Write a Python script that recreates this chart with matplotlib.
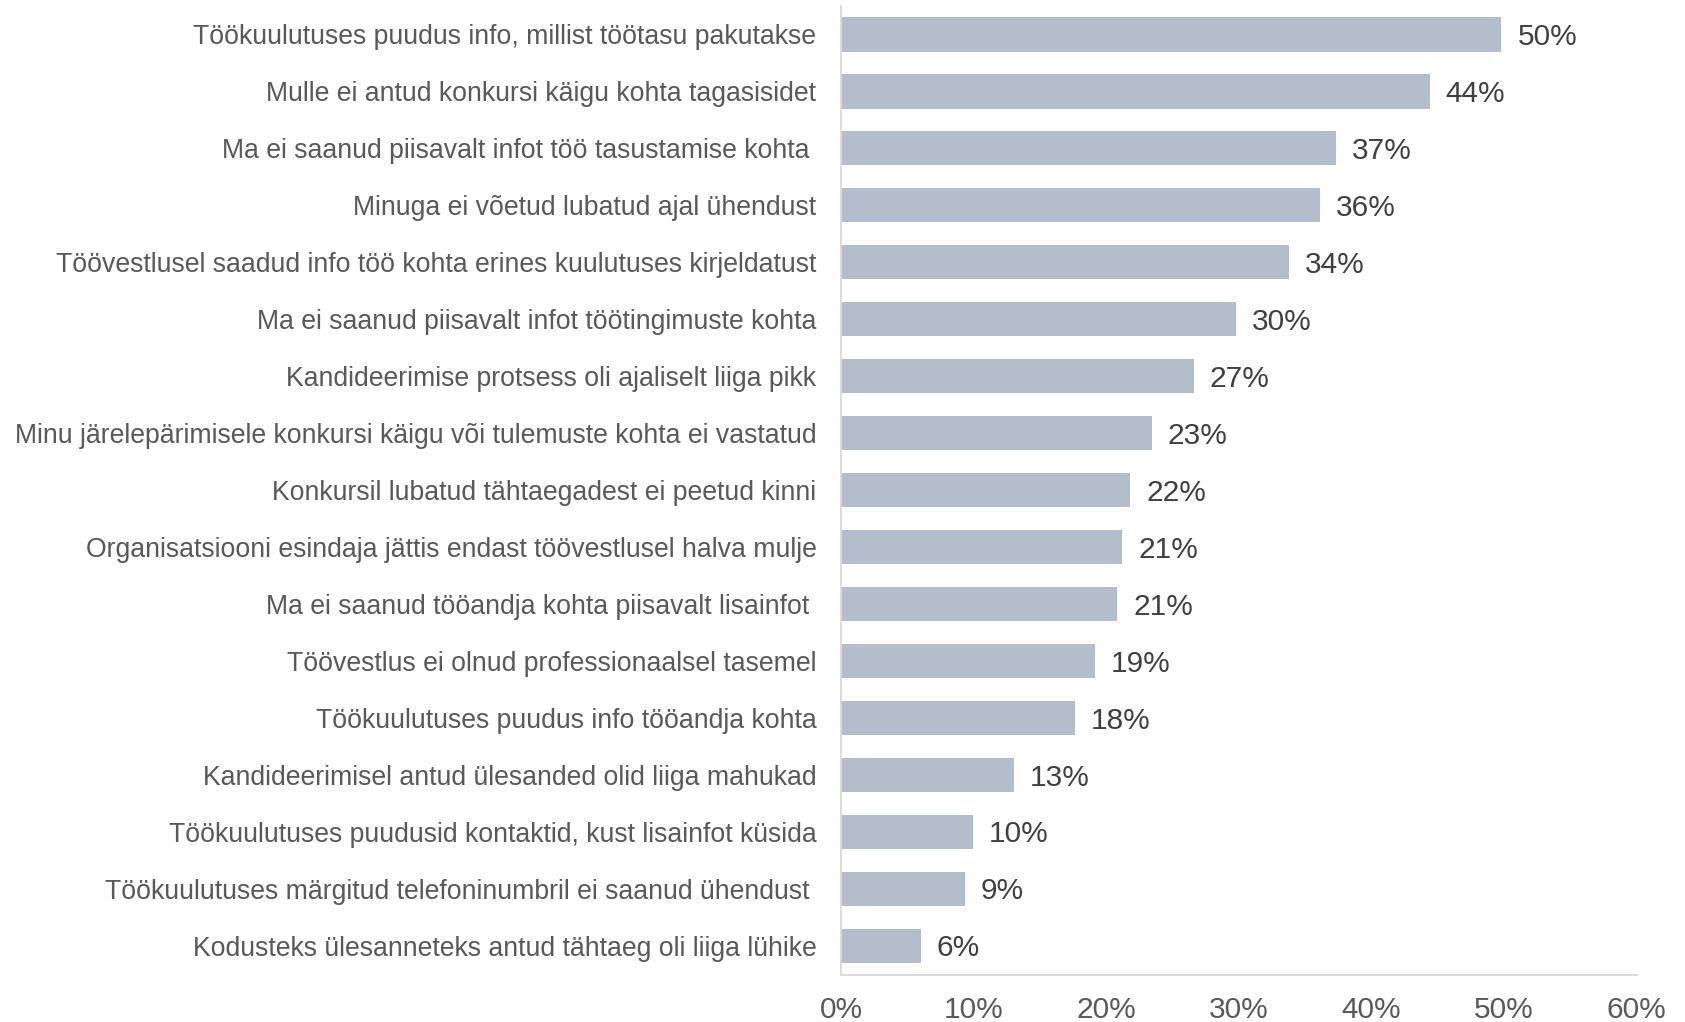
import matplotlib.pyplot as plt

# Data, top to bottom
categories = [
    "Töökuulutuses puudus info, millist töötasu pakutakse",
    "Mulle ei antud konkursi käigu kohta tagasisidet",
    "Ma ei saanud piisavalt infot töö tasustamise kohta ",
    "Minuga ei võetud lubatud ajal ühendust",
    "Töövestlusel saadud info töö kohta erines kuulutuses kirjeldatust",
    "Ma ei saanud piisavalt infot töötingimuste kohta",
    "Kandideerimise protsess oli ajaliselt liiga pikk",
    "Minu järelepärimisele konkursi käigu või tulemuste kohta ei vastatud",
    "Konkursil lubatud tähtaegadest ei peetud kinni",
    "Organisatsiooni esindaja jättis endast töövestlusel halva mulje",
    "Ma ei saanud tööandja kohta piisavalt lisainfot ",
    "Töövestlus ei olnud professionaalsel tasemel",
    "Töökuulutuses puudus info tööandja kohta",
    "Kandideerimisel antud ülesanded olid liiga mahukad",
    "Töökuulutuses puudusid kontaktid, kust lisainfot küsida",
    "Töökuulutuses märgitud telefoninumbril ei saanud ühendust ",
    "Kodusteks ülesanneteks antud tähtaeg oli liiga lühike",
]
values = [49.8, 44.4, 37.3, 36.1, 33.8, 29.8, 26.6, 23.4, 21.8, 21.2,
          20.8, 19.1, 17.6, 13.0, 9.9, 9.3, 6.0]
xticks = [0, 10, 20, 30, 40, 50, 60]

BAR = '#B4BDCC'
TXT = '#595959'
VAL = '#404040'
AXC = '#D9D9D9'

plt.rcParams['font.family'] = ['Liberation Sans', 'DejaVu Sans']

fig = plt.figure(figsize=(16.85, 10.22), dpi=100)
ax = fig.add_axes([0.4994, 0.0463, 0.4719, 0.9479])

ypos = list(range(len(categories)))
ax.barh(ypos, values, height=0.6, color=BAR)

for y, v in zip(ypos, values):
    ax.text(v + 1.2, y + 0.04, f"{v:.0f}%", va='center', ha='left',
            fontsize=21.5, color=VAL)

ax.set_ylim(len(categories) - 0.5, -0.5)
ax.set_xlim(0, 60)
ax.set_yticks(ypos)
ax.set_yticklabels(categories, fontsize=19.2, color=TXT)
ax.set_xticks(xticks)
ax.set_xticklabels([f"{t}%" for t in xticks], fontsize=21.5, color=TXT)
ax.tick_params(axis='both', length=0)
ax.tick_params(axis='y', pad=18)
ax.tick_params(axis='x', pad=15)

for s in ['top', 'right']:
    ax.spines[s].set_visible(False)
ax.spines['left'].set_color(AXC)
ax.spines['bottom'].set_color(AXC)
ax.spines['left'].set_linewidth(1.3)
ax.spines['bottom'].set_linewidth(1.3)

fig.savefig('out.png', dpi=100)
